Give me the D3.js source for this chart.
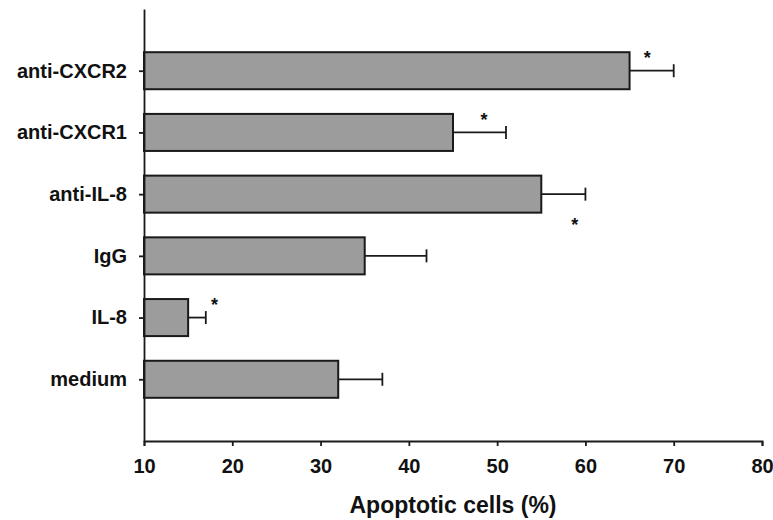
<!DOCTYPE html>
<html>
<head>
<meta charset="utf-8">
<script src="https://cdn.jsdelivr.net/npm/d3@7"></script>
<style>
	body { margin: 0; background: #fff; }
	svg text { font-family: "Liberation Sans", Arial, sans-serif; font-weight: bold; fill: #111; }
</style>
</head>
<body>
<svg id="chart" width="773" height="520"></svg>
<script>
// groups from bottom to top
var groups = ['medium', 'IL-8', 'IgG', 'anti-IL-8', 'anti-CXCR1', 'anti-CXCR2'];
var means = [32, 15, 35, 55, 45, 65];
var errors = [5, 2, 7, 5, 6, 5];
// significance markers: x position (in % units) and whether above/below the bar
var starGroups = ['anti-CXCR2', 'anti-CXCR1', 'anti-IL-8', 'IL-8'];
var starX = [67, 48.5, 58.8, 18];
var starSide = ['above', 'above', 'below', 'above'];
var xTicks = [10, 20, 30, 40, 50, 60, 70, 80];

var svg = d3.select('#chart');
var plotLeft = 144, plotRight = 762, plotTop = 9, plotBottom = 441;

var xScale = d3.scaleLinear().domain([10, 80]).range([plotLeft, plotRight]);
// slots 0..7, groups sit on 1..6
var yScale = d3.scaleLinear().domain([0, groups.length + 1]).range([plotBottom, plotTop]);
var step = yScale(0) - yScale(1);
var barH = step * 0.6;
function yPos(name) { return yScale(groups.indexOf(name) + 1); }

var data = groups.map(function (g, i) {
	return { name: g, mean: means[i], err: errors[i] };
});

// bars
svg.append('g').selectAll('rect')
	.data(data)
	.enter()
	.append('rect')
	.attr('x', xScale(10))
	.attr('y', function (d) { return yPos(d.name) - barH / 2; })
	.attr('width', function (d) { return xScale(d.mean) - xScale(10); })
	.attr('height', barH)
	.attr('fill', '#9c9c9c')
	.attr('stroke', '#1a1a1a')
	.attr('stroke-width', 2);

// error bars
var errG = svg.append('g').attr('stroke', '#1a1a1a').attr('stroke-width', 1.8);
errG.selectAll('line.whisker')
	.data(data)
	.enter()
	.append('line')
	.attr('class', 'whisker')
	.attr('x1', function (d) { return xScale(d.mean); })
	.attr('x2', function (d) { return xScale(d.mean + d.err); })
	.attr('y1', function (d) { return yPos(d.name); })
	.attr('y2', function (d) { return yPos(d.name); });
errG.selectAll('line.cap')
	.data(data)
	.enter()
	.append('line')
	.attr('class', 'cap')
	.attr('x1', function (d) { return xScale(d.mean + d.err); })
	.attr('x2', function (d) { return xScale(d.mean + d.err); })
	.attr('y1', function (d) { return yPos(d.name) - 6.5; })
	.attr('y2', function (d) { return yPos(d.name) + 6.5; });

// asterisks
var starFs = 18;
svg.append('g').selectAll('text')
	.data(starGroups)
	.enter()
	.append('text')
	.attr('x', function (d, i) { return xScale(starX[i]); })
	.attr('y', function (d, i) {
		var c = starSide[i] === 'above' ? yPos(d) - step * 0.28 : yPos(d) + step * 0.43;
		return c + starFs * 0.58;
	})
	.attr('text-anchor', 'middle')
	.style('font-size', starFs + 'px')
	.text('*');

// axes
var xAxis = d3.axisBottom(xScale).tickValues(xTicks).tickSize(5).tickPadding(13).tickSizeOuter(5);
var gx = svg.append('g')
	.attr('transform', 'translate(0,' + plotBottom + ')')
	.call(xAxis);
gx.selectAll('text').style('font-size', '20px').attr('fill', '#111');

var yAxis = d3.axisLeft(yScale)
	.tickValues(d3.range(1, groups.length + 1))
	.tickFormat(function (d) { return groups[d - 1]; })
	.tickSize(5).tickPadding(12).tickSizeOuter(0);
var gy = svg.append('g')
	.attr('transform', 'translate(' + plotLeft + ',0)')
	.call(yAxis);
gy.selectAll('text').style('font-size', '20px').attr('fill', '#111');

svg.selectAll('.domain, .tick line').attr('stroke', '#1a1a1a').attr('stroke-width', 1.8);

// axis title
svg.append('text')
	.attr('x', 453)
	.attr('y', 513)
	.attr('text-anchor', 'middle')
	.style('font-size', '23px')
	.text('Apoptotic cells (%)');
</script>
</body>
</html>
